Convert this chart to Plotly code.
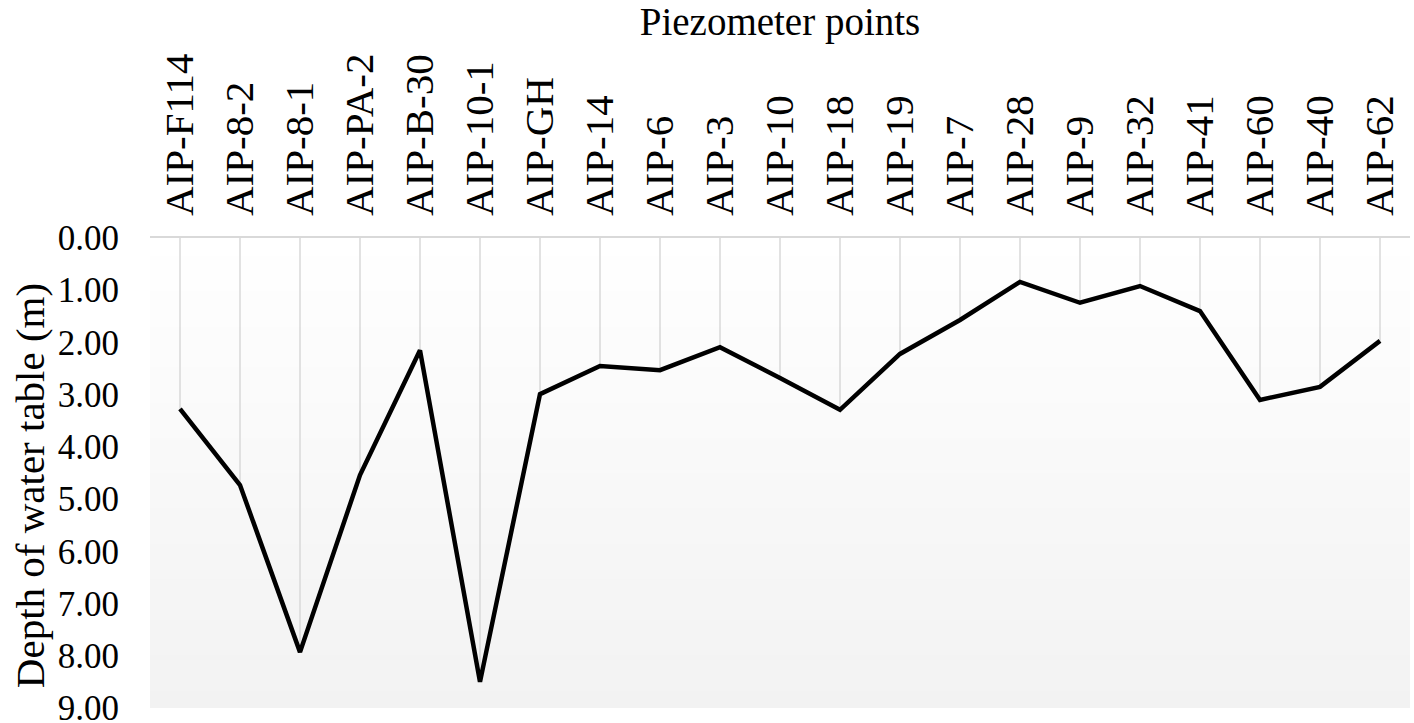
import plotly.graph_objects as go

# Piezometer points and depth of water table (m)
points = ["AIP-F114", "AIP-8-2", "AIP-8-1", "AIP-PA-2", "AIP-B-30", "AIP-10-1",
          "AIP-GH", "AIP-14", "AIP-6", "AIP-3", "AIP-10", "AIP-18", "AIP-19",
          "AIP-7", "AIP-28", "AIP-9", "AIP-32", "AIP-41", "AIP-60", "AIP-40", "AIP-62"]
depth = [3.27, 4.73, 7.93, 4.54, 2.15, 8.50, 2.99, 2.45, 2.53, 2.09, 2.68, 3.29,
         2.22, 1.57, 0.84, 1.24, 0.92, 1.40, 3.10, 2.85, 1.97]
y_ticks = [0, 1, 2, 3, 4, 5, 6, 7, 8, 9]

FONT = "Liberation Serif"

fig = go.Figure()

# drop lines from the top axis down to each point
fig.add_trace(go.Scatter(
    x=points, y=depth, mode="lines", line=dict(width=0), hoverinfo="skip",
    error_y=dict(type="data", symmetric=False, array=[0] * len(depth),
                 arrayminus=depth, color="#d9d9d9", thickness=1.5, width=0),
    showlegend=False,
))

fig.add_trace(go.Scatter(
    x=points, y=depth, mode="lines",
    line=dict(color="black", width=4.5),
    showlegend=False,
))

# plot area background: white at top fading to light grey at the bottom
n_bands = 80
for i in range(n_bands):
    t = (i + 0.5) / n_bands
    g = round(255 - 13 * (1 - t))
    fig.add_shape(type="rect", xref="x domain", yref="y domain",
                  x0=0, x1=1, y0=i / n_bands, y1=(i + 1) / n_bands + 0.002,
                  fillcolor=f"rgb({g},{g},{g})", line=dict(width=0), layer="below")

fig.update_layout(
    width=1414, height=723,
    margin=dict(l=150, r=4, t=238, b=15),
    paper_bgcolor="white", plot_bgcolor="white",
    font=dict(family=FONT, color="black", size=38),
)

fig.update_xaxes(
    type="category", side="top", range=[-0.5, len(points) - 0.5],
    showgrid=False, showline=True, linecolor="#d9d9d9", linewidth=1.5,
    tickangle=-90, ticks="", tickfont=dict(family=FONT, size=41), ticklabelstandoff=12,
    title=dict(text="Piezometer points", font=dict(family=FONT, size=39), standoff=7),
    automargin=False,
)

fig.update_yaxes(
    range=[9, 0], tickvals=y_ticks, tickformat=".2f",
    showgrid=False, zeroline=False, showline=False, ticks="",
    tickfont=dict(family=FONT, size=35), ticklabelstandoff=30,
    ticklabeloverflow="allow",
    automargin=False,
)

# y axis title, sitting a little below the plot centre like the original
fig.add_annotation(
    text="Depth of water table (m)", textangle=-90,
    xref="paper", yref="paper", x=0, y=0.472, xshift=-120,
    xanchor="center", yanchor="middle", showarrow=False,
    font=dict(family=FONT, size=41, color="black"),
)

# the page body has a default 8px margin; remove it so the figure fills the window
fig.write_html("out.html", config={"displayModeBar": False},
               post_script="document.body.style.margin='0';")
